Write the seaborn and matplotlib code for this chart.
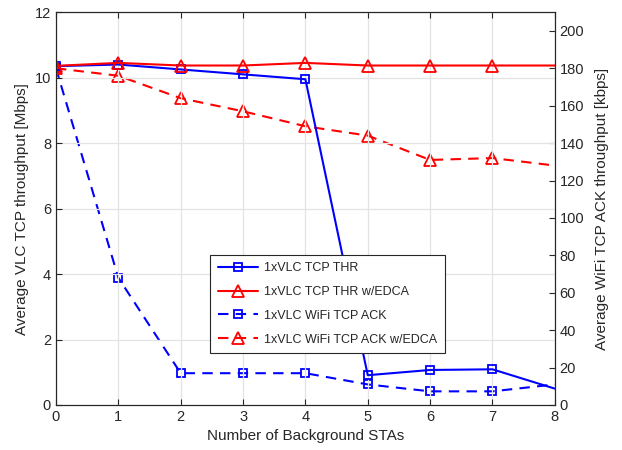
import matplotlib
matplotlib.use("Agg")
import matplotlib.pyplot as plt
import seaborn as sns
import numpy as np

# x values: number of background STAs
stas = [0, 1, 2, 3, 4, 5, 6, 7, 8]

# VLC TCP throughput [Mbps] (left axis)
vlc_thr = [10.35, 10.40, 10.25, 10.10, 9.95, 0.91, 1.07, 1.09, 0.50]
vlc_thr_edca = [10.36, 10.45, 10.37, 10.37, 10.45, 10.37, 10.37, 10.37, 10.37]

# WiFi TCP ACK throughput [kbps] (right axis)
wifi_ack = [180, 68, 17, 17, 17, 11, 7.3, 7.3, 11]
wifi_ack_edca = [180, 176, 164, 157, 149, 144, 131, 132, 128]

labels = ["1xVLC TCP THR", "1xVLC TCP THR w/EDCA",
          "1xVLC WiFi TCP ACK", "1xVLC WiFi TCP ACK w/EDCA"]

sns.set_style("whitegrid")
plt.rcParams['font.family'] = ['Liberation Sans', 'DejaVu Sans']
plt.rcParams['font.size'] = 10

fig = plt.figure(figsize=(6.22, 4.5), dpi=100)
ax = fig.add_axes([0.090, 0.100, 0.802, 0.873])
ax2 = ax.twinx()

blue = (0, 0, 1)
red = (1, 0, 0)

sns.lineplot(x=stas, y=vlc_thr, ax=ax, color=blue, marker='s', legend=False)
sns.lineplot(x=stas, y=vlc_thr_edca, ax=ax, color=red, marker='^', legend=False)
sns.lineplot(x=stas, y=wifi_ack, ax=ax2, color=blue, marker='s', legend=False)
sns.lineplot(x=stas, y=wifi_ack_edca, ax=ax2, color=red, marker='^', legend=False)

# restyle lines MATLAB-like (open markers, markers only on 0..7)
lines = ax.lines + ax2.lines
for i, ln in enumerate(lines):
    ln.set_linewidth(1.5)
    ln.set_markersize(6 if ln.get_marker() == 's' else 8.5)
    ln.set_markerfacecolor('none')
    ln.set_markeredgecolor(ln.get_color())
    ln.set_markeredgewidth(1.3)
    ln.set_markevery(slice(0, 8))
    if i >= 2:
        ln.set_linestyle((0, (5, 3.5)))

ax.set_xlim(0, 8)
ax.set_ylim(0, 12)
ax.set_xticks(range(0, 9))
ax.set_yticks(range(0, 13, 2))
ax2.set_ylim(0, 210)
ax2.set_yticks(range(0, 201, 20))
ax2.grid(False)
ax.grid(True, color='#e3e3e3', linewidth=0.9)

ax.set_xlabel("Number of Background STAs", color='#262626', fontsize=11)
ax.set_ylabel("Average VLC TCP throughput [Mbps]", color='#262626', fontsize=11)
ax2.set_ylabel("Average WiFi TCP ACK throughput [kbps]", color='#262626', fontsize=11,
               labelpad=8)

for a in (ax, ax2):
    for s in a.spines.values():
        s.set_color('#262626')
        s.set_linewidth(0.8)
    a.tick_params(direction='in', length=4, width=0.8, color='#262626',
                  labelcolor='#262626', labelsize=10.5)
ax.tick_params(top=True, left=True, bottom=True)
ax2.tick_params(right=True)

leg = ax.legend(lines, labels, loc='lower left', bbox_to_anchor=(0.297, 0.116),
                fancybox=False, framealpha=1, edgecolor='#262626', fontsize=9,
                handlelength=3.2, handletextpad=0.5, borderpad=0.6,
                labelspacing=0.95)
leg.get_frame().set_linewidth(0.8)
ax.set_zorder(ax2.get_zorder() + 1)
ax.patch.set_visible(False)

fig.savefig("out.png", dpi=100)
